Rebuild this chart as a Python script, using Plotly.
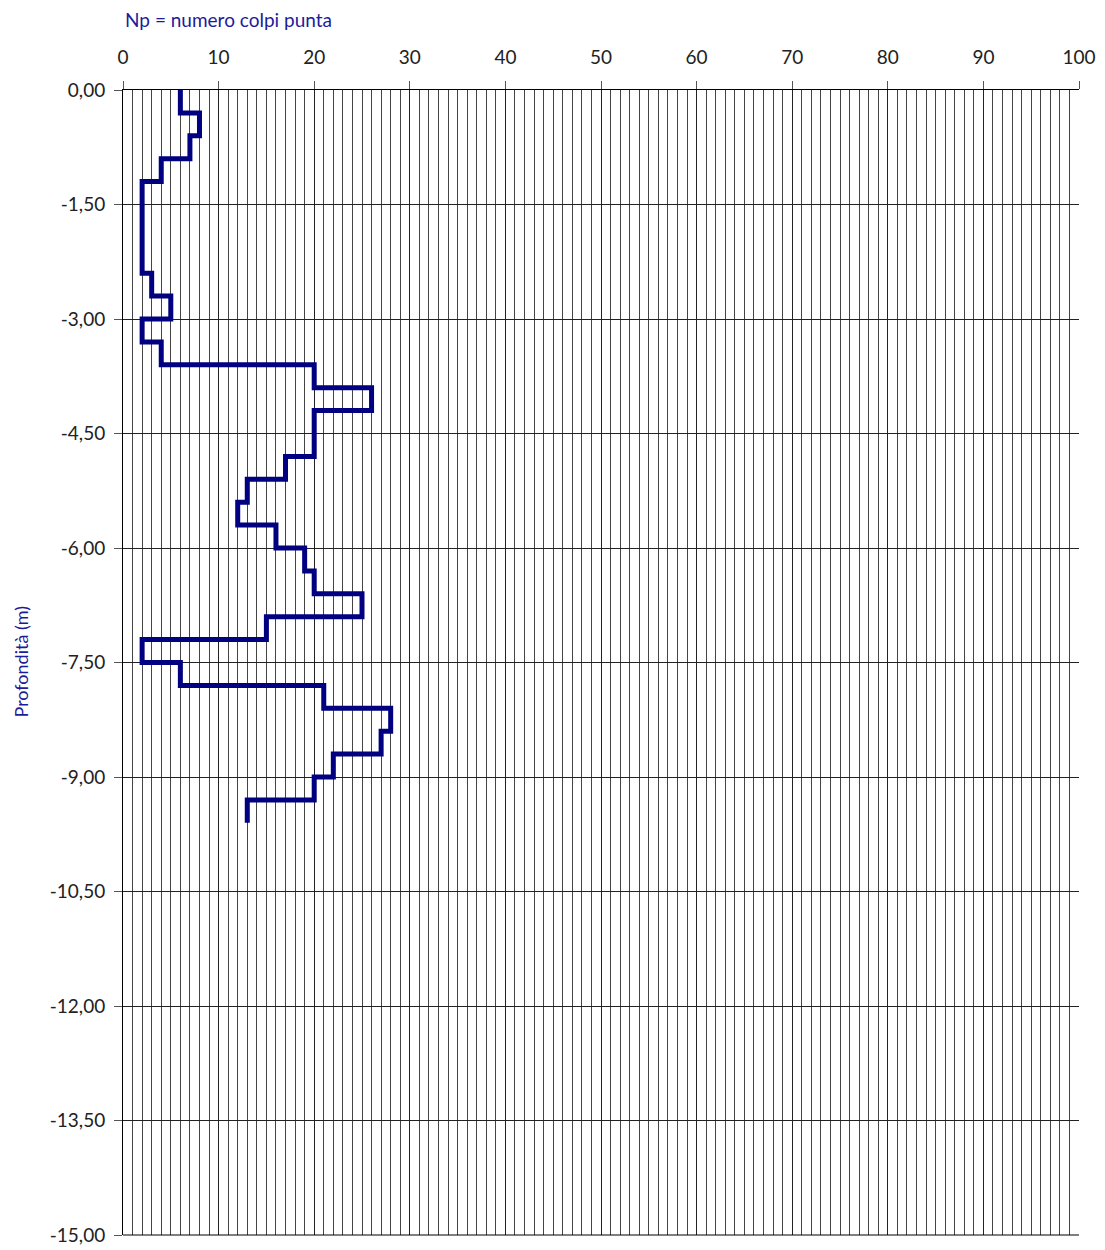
import plotly.graph_objects as go

# Depth of each 0.30 m step (top of interval), metres
depth_top = [0.0, 0.3, 0.6, 0.9, 1.2, 1.5, 1.8, 2.1, 2.4, 2.7, 3.0, 3.3, 3.6, 3.9, 4.2, 4.5,
             4.8, 5.1, 5.4, 5.7, 6.0, 6.3, 6.6, 6.9, 7.2, 7.5, 7.8, 8.1, 8.4, 8.7, 9.0, 9.3]
final_depth = 9.6
# Np = blows per step
np_blows = [6, 8, 7, 4, 2, 2, 2, 2, 3, 5, 2, 4, 20, 26, 20, 20,
            17, 13, 12, 16, 19, 20, 25, 15, 2, 6, 21, 28, 27, 22, 20, 13]

x_ticks = list(range(0, 101, 10))
y_ticks = [0, -1.5, -3, -4.5, -6, -7.5, -9, -10.5, -12, -13.5, -15]
y_ticktext = [f"{v:.2f}".replace(".", ",") for v in y_ticks]

xs = np_blows + [np_blows[-1]]
ys = [-d for d in depth_top] + [-final_depth]

fig = go.Figure()
fig.add_trace(go.Scatter(
    x=xs, y=ys, mode="lines", line=dict(color="#000080", width=5, shape="vh"),
    hoverinfo="skip", showlegend=False))

PLOT_W, PLOT_H = 956, 1145
font_family = "Lato, 'Open Sans', sans-serif"
fig.update_layout(
    width=1097, height=1242,
    margin=dict(l=115, r=26, t=82, b=15),
    plot_bgcolor="white", paper_bgcolor="white",
    font=dict(family=font_family, size=19, color="#222222"),
    xaxis=dict(
        side="top", range=[0, 100], tickmode="array", tickvals=x_ticks,
        ticktext=[str(v) for v in x_ticks],
        ticks="outside", ticklen=8, tickcolor="#555555", automargin=False,
        ticklabelstandoff=9,
        showgrid=True, gridcolor="#222222", gridwidth=1,
        minor=dict(dtick=1, showgrid=True, gridcolor="#444444", gridwidth=1),
        showline=True, linecolor="black", linewidth=1, zeroline=False,
    ),
    yaxis=dict(
        range=[-15, 0], tickmode="array", tickvals=y_ticks, ticktext=y_ticktext,
        ticks="outside", ticklen=8, tickcolor="#555555", automargin=False,
        ticklabelstandoff=5,
        showgrid=True, gridcolor="#222222", gridwidth=1,
        showline=True, linecolor="black", linewidth=1, zeroline=False,
    ),
    annotations=[
        dict(text="Np = numero colpi punta", xref="paper", yref="paper",
             x=0, y=1 + 71 / PLOT_H, xanchor="left", yanchor="middle",
             showarrow=False, font=dict(color="#1c1c9a", size=19, family=font_family)),
        dict(text="Profondità (m)", xref="paper", yref="paper",
             x=-103 / PLOT_W, y=0.5, xanchor="center", yanchor="middle",
             textangle=-90, showarrow=False,
             font=dict(color="#1c1c9a", size=18, family=font_family)),
    ],
)
# bottom border line at -15
fig.add_shape(type="line", xref="paper", yref="paper", x0=0, x1=1, y0=0, y1=0,
              line=dict(color="black", width=1))

fig.write_html("out.html")
